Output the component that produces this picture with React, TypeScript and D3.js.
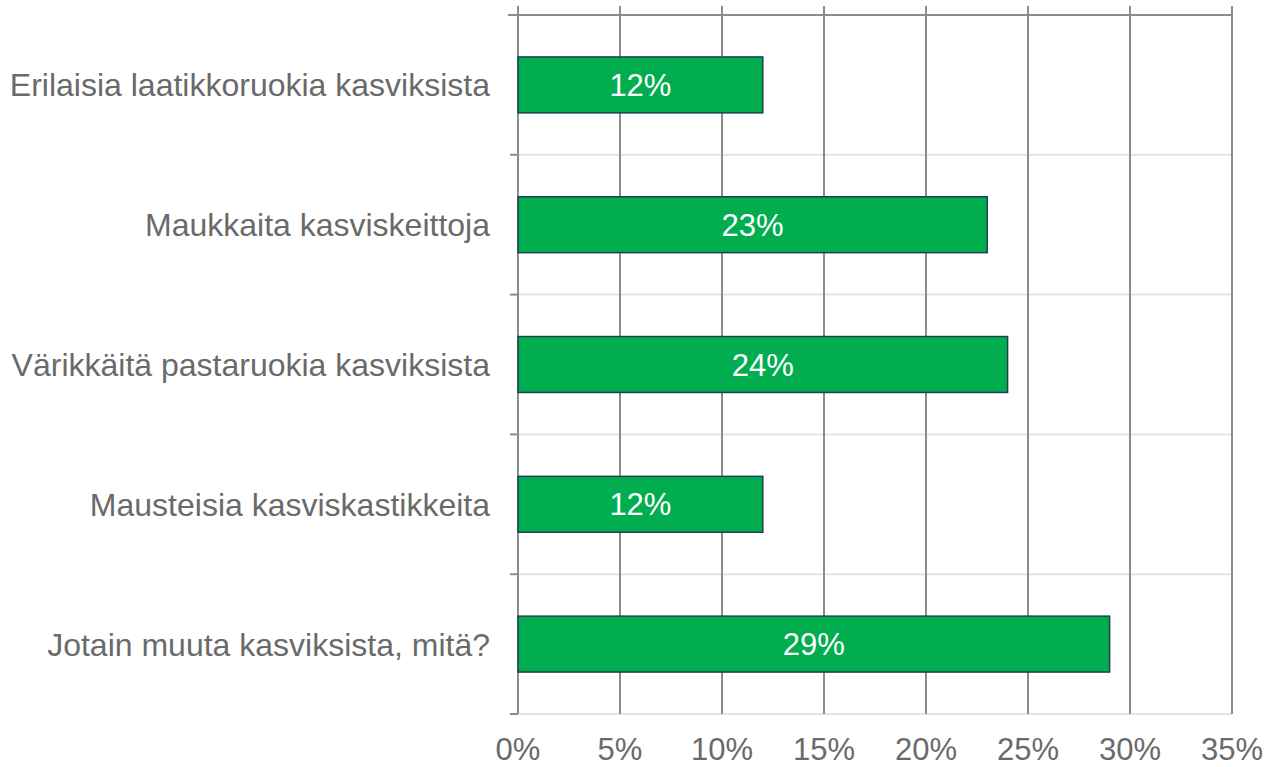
import React, { useEffect, useRef } from "react";
import * as d3 from "d3";

const categories = [
  "Erilaisia laatikkoruokia kasviksista",
  "Maukkaita kasviskeittoja",
  "Värikkäitä pastaruokia kasviksista",
  "Mausteisia kasviskastikkeita",
  "Jotain muuta kasviksista, mitä?",
];
const values = [12, 23, 24, 12, 29];
const xTicks = [0, 5, 10, 15, 20, 25, 30, 35];

const App: React.FC = () => {
  const svgRef = useRef<SVGSVGElement>(null);

  useEffect(() => {
    if (!svgRef.current) return;
    const width = 1266;
    const height = 767;
    const margin = { top: 15, right: 34, bottom: 53, left: 518 };

    const svg = d3.select(svgRef.current);
    svg.selectAll("*").remove();

    const x = d3
      .scaleLinear()
      .domain([0, 35])
      .range([margin.left, width - margin.right]);

    const y = d3
      .scaleBand<string>()
      .domain(categories)
      .range([margin.top, height - margin.bottom])
      .paddingInner(0.6)
      .paddingOuter(0.3);

    const step = y.step();
    const bounds = d3.range(categories.length + 1).map((i) => margin.top + i * step);
    const font = "'Liberation Sans', Arial, sans-serif";

    // light horizontal gridlines between categories
    svg
      .selectAll(".hgrid")
      .data(bounds.slice(1))
      .enter()
      .append("line")
      .attr("x1", x(0))
      .attr("x2", x(35))
      .attr("y1", (d) => d)
      .attr("y2", (d) => d)
      .attr("stroke", "#e3e3e3")
      .attr("stroke-width", 2);

    // vertical gridlines
    svg
      .selectAll(".vgrid")
      .data(xTicks)
      .enter()
      .append("line")
      .attr("x1", (d) => x(d))
      .attr("x2", (d) => x(d))
      .attr("y1", 6)
      .attr("y2", bounds[bounds.length - 1])
      .attr("stroke", "#8c8c8c")
      .attr("stroke-width", 2);

    // top line
    svg
      .append("line")
      .attr("x1", x(0) - 10)
      .attr("x2", x(35))
      .attr("y1", margin.top)
      .attr("y2", margin.top)
      .attr("stroke", "#8c8c8c")
      .attr("stroke-width", 2);

    // left tick marks
    svg
      .selectAll(".ytick")
      .data(bounds)
      .enter()
      .append("line")
      .attr("x1", x(0) - 8)
      .attr("x2", x(0))
      .attr("y1", (d) => d)
      .attr("y2", (d) => d)
      .attr("stroke", "#8c8c8c")
      .attr("stroke-width", 2);

    // bars
    svg
      .selectAll(".bar")
      .data(values)
      .enter()
      .append("rect")
      .attr("x", x(0))
      .attr("y", (_, i) => y(categories[i]) as number)
      .attr("width", (d) => x(d) - x(0))
      .attr("height", y.bandwidth())
      .attr("fill", "#00ad4f")
      .attr("stroke", "#213f52")
      .attr("stroke-width", 1.5);

    // bar labels
    svg
      .selectAll(".barlabel")
      .data(values)
      .enter()
      .append("text")
      .attr("x", (d) => (x(0) + x(d)) / 2)
      .attr("y", (_, i) => (y(categories[i]) as number) + y.bandwidth() / 2)
      .attr("dy", "0.36em")
      .attr("text-anchor", "middle")
      .attr("fill", "#ffffff")
      .attr("font-family", font)
      .attr("font-size", 31)
      .text((d) => `${d}%`);

    // category labels
    svg
      .selectAll(".catlabel")
      .data(categories)
      .enter()
      .append("text")
      .attr("x", 490)
      .attr("y", (d) => (y(d) as number) + y.bandwidth() / 2)
      .attr("dy", "0.36em")
      .attr("text-anchor", "end")
      .attr("fill", "#6a6a6a")
      .attr("font-family", font)
      .attr("font-size", 32)
      .text((d) => d);

    // x tick labels
    svg
      .selectAll(".xlabel")
      .data(xTicks)
      .enter()
      .append("text")
      .attr("x", (d) => x(d))
      .attr("y", 749)
      .attr("dy", "0.36em")
      .attr("text-anchor", "middle")
      .attr("fill", "#6a6a6a")
      .attr("font-family", font)
      .attr("font-size", 31)
      .text((d) => `${d}%`);
  }, []);

  return (
    <svg
      ref={svgRef}
      width={1266}
      height={767}
      style={{ position: "absolute", left: 0, top: 0, background: "#fff" }}
    />
  );
};

export default App;
